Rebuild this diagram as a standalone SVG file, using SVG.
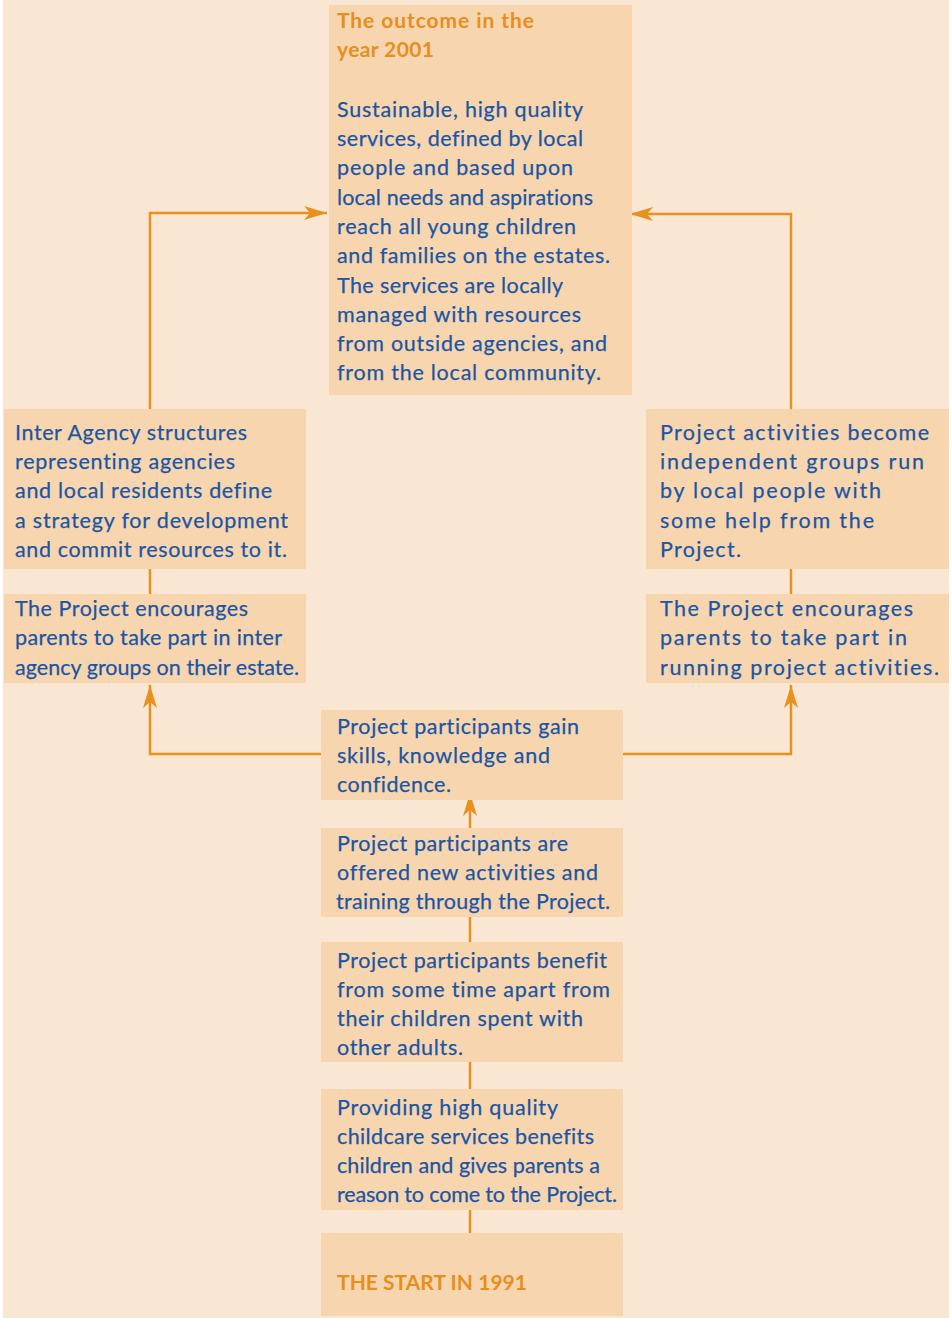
<svg xmlns="http://www.w3.org/2000/svg" width="952" height="1318" viewBox="0 0 952 1318">
<style>
.bg{fill:#FAE7D3}
.box{fill:#F7D5AF}
.t{font-family:Lato,"Open Sans","Liberation Sans",sans-serif;font-size:21.5px;fill:#1B55A3;stroke:#1B55A3;stroke-width:0.25;font-variant-ligatures:none}
.h{font-family:Lato,"Open Sans","Liberation Sans",sans-serif;font-size:21px;font-weight:bold;fill:#E68E1E;font-variant-ligatures:none}
.ln{fill:none;stroke:#E8911E;stroke-width:2.5}
</style>
<defs>
<marker id="ah" viewBox="-23 -7 24 14" refX="0" refY="0" markerWidth="24" markerHeight="14" markerUnits="userSpaceOnUse" orient="auto">
<path d="M0,0 L-23,-7 L-17,0 L-23,7 Z" fill="#E8911E"/>
</marker>
</defs>
<rect class="bg" x="3" y="0" width="946" height="1318"/>
<g id="connectors">
<path class="ln" d="M150,409 V213 H327" marker-end="url(#ah)"/>
<path class="ln" d="M791,409 V214 H630" marker-end="url(#ah)"/>
<line class="ln" x1="150" y1="569" x2="150" y2="594"/>
<line class="ln" x1="791" y1="569" x2="791" y2="594"/>
<path class="ln" d="M321,754 H150 V685" marker-end="url(#ah)"/>
<path class="ln" d="M623,754 H791 V685" marker-end="url(#ah)"/>
<line class="ln" x1="470" y1="828" x2="470" y2="793" marker-end="url(#ah)"/>
<line class="ln" x1="470" y1="917" x2="470" y2="942"/>
<line class="ln" x1="470" y1="1062" x2="470" y2="1089"/>
<line class="ln" x1="470" y1="1210" x2="470" y2="1233"/>
</g>
<g id="outcome">
<rect class="box" x="329" y="5" width="303" height="390"/>
<text class="h" x="337" y="28" textLength="197" lengthAdjust="spacing">The outcome in the</text>
<text class="h" x="337" y="57" textLength="97" lengthAdjust="spacing">year 2001</text>
<text class="t" x="337" y="117" textLength="246" lengthAdjust="spacing">Sustainable, high quality</text>
<text class="t" x="337" y="146" textLength="246" lengthAdjust="spacing">services, defined by local</text>
<text class="t" x="337" y="175" textLength="236" lengthAdjust="spacing">people and based upon</text>
<text class="t" x="337" y="205" textLength="256" lengthAdjust="spacing">local needs and aspirations</text>
<text class="t" x="337" y="234" textLength="239" lengthAdjust="spacing">reach all young children</text>
<text class="t" x="337" y="263" textLength="273" lengthAdjust="spacing">and families on the estates.</text>
<text class="t" x="337" y="293" textLength="226" lengthAdjust="spacing">The services are locally</text>
<text class="t" x="337" y="322" textLength="244" lengthAdjust="spacing">managed with resources</text>
<text class="t" x="337" y="351" textLength="270" lengthAdjust="spacing">from outside agencies, and</text>
<text class="t" x="337" y="380" textLength="264" lengthAdjust="spacing">from the local community.</text>
</g>
<g id="interagency">
<rect class="box" x="4" y="409" width="302" height="160"/>
<text class="t" x="15" y="440" textLength="232" lengthAdjust="spacing">Inter Agency structures</text>
<text class="t" x="15" y="469" textLength="220" lengthAdjust="spacing">representing agencies</text>
<text class="t" x="15" y="498" textLength="257" lengthAdjust="spacing">and local residents define</text>
<text class="t" x="15" y="528" textLength="273" lengthAdjust="spacing">a strategy for development</text>
<text class="t" x="15" y="557" textLength="272" lengthAdjust="spacing">and commit resources to it.</text>
</g>
<g id="encourage-left">
<rect class="box" x="4" y="594" width="302" height="89"/>
<text class="t" x="15" y="616" textLength="233" lengthAdjust="spacing">The Project encourages</text>
<text class="t" x="15" y="645" textLength="267" lengthAdjust="spacing">parents to take part in inter</text>
<text class="t" x="15" y="675" textLength="284" lengthAdjust="spacing">agency groups on their estate.</text>
</g>
<g id="activities">
<rect class="box" x="646" y="409" width="303" height="160"/>
<text class="t" x="660" y="440" textLength="269" lengthAdjust="spacing">Project activities become</text>
<text class="t" x="660" y="469" textLength="264" lengthAdjust="spacing">independent groups run</text>
<text class="t" x="660" y="498" textLength="221" lengthAdjust="spacing">by local people with</text>
<text class="t" x="660" y="528" textLength="214" lengthAdjust="spacing">some help from the</text>
<text class="t" x="660" y="557" textLength="81" lengthAdjust="spacing">Project.</text>
</g>
<g id="encourage-right">
<rect class="box" x="646" y="594" width="303" height="89"/>
<text class="t" x="660" y="616" textLength="253" lengthAdjust="spacing">The Project encourages</text>
<text class="t" x="660" y="645" textLength="247" lengthAdjust="spacing">parents to take part in</text>
<text class="t" x="660" y="675" textLength="279" lengthAdjust="spacing">running project activities.</text>
</g>
<g id="gain">
<rect class="box" x="321" y="710" width="302" height="90"/>
<text class="t" x="337" y="734" textLength="242" lengthAdjust="spacing">Project participants gain</text>
<text class="t" x="337" y="763" textLength="213" lengthAdjust="spacing">skills, knowledge and</text>
<text class="t" x="337" y="792" textLength="114" lengthAdjust="spacing">confidence.</text>
</g>
<g id="offered">
<rect class="box" x="321" y="828" width="302" height="89"/>
<text class="t" x="337" y="851" textLength="231" lengthAdjust="spacing">Project participants are</text>
<text class="t" x="337" y="880" textLength="261" lengthAdjust="spacing">offered new activities and</text>
<text class="t" x="336" y="909" textLength="274" lengthAdjust="spacing">training through the Project.</text>
</g>
<g id="benefit">
<rect class="box" x="321" y="942" width="302" height="120"/>
<text class="t" x="337" y="968" textLength="270" lengthAdjust="spacing">Project participants benefit</text>
<text class="t" x="337" y="997" textLength="273" lengthAdjust="spacing">from some time apart from</text>
<text class="t" x="337" y="1026" textLength="246" lengthAdjust="spacing">their children spent with</text>
<text class="t" x="337" y="1055" textLength="126" lengthAdjust="spacing">other adults.</text>
</g>
<g id="childcare">
<rect class="box" x="321" y="1089" width="302" height="121"/>
<text class="t" x="337" y="1115" textLength="221" lengthAdjust="spacing">Providing high quality</text>
<text class="t" x="337" y="1144" textLength="257" lengthAdjust="spacing">childcare services benefits</text>
<text class="t" x="337" y="1173" textLength="263" lengthAdjust="spacing">children and gives parents a</text>
<text class="t" x="337" y="1202" textLength="280" lengthAdjust="spacing">reason to come to the Project.</text>
</g>
<g id="start">
<rect class="box" x="321" y="1233" width="302" height="83"/>
<text class="h" x="337" y="1290" textLength="190" lengthAdjust="spacing">THE START IN 1991</text>
</g>
</svg>
